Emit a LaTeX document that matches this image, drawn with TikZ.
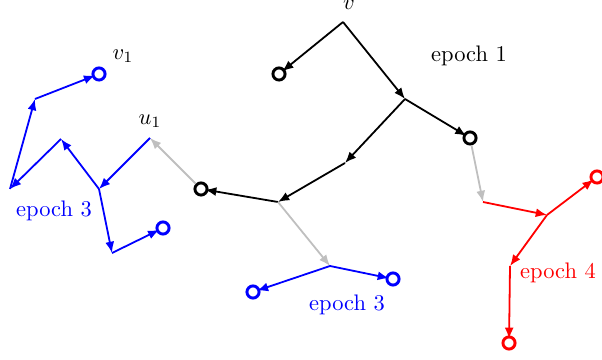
\documentclass[tikz,border=0pt]{standalone}
\usetikzlibrary{arrows.meta}
\begin{document}
\begin{tikzpicture}[x=0.445pt,y=-0.445pt,
  edge/.style={thick,-{Latex[length=5pt,width=4pt]}},
  toleaf/.style={edge,shorten >=-1.5pt},
  leaf/.style={circle,draw,line width=1.3pt,inner sep=0pt,minimum size=5.4pt},
  blk/.style={black},
  blu/.style={blue},
  rd/.style={red},
  gry/.style={black!25},
  lbl/.style={inner sep=1pt}]
\useasboundingbox (0,0) rectangle (602,360);
% black tree
\coordinate (v) at (343,22);
\coordinate (a) at (405,99);
\coordinate (b) at (345,163);
\coordinate (c) at (278,202);
\node[leaf,blk] (l1) at (279,74) {};
\node[leaf,blk] (l2) at (470,138) {};
\node[leaf,blk] (l3) at (201,189) {};
\node[lbl] (vl) at (349,5) {$v$};
\node[lbl] (e1) at (469,56) {epoch 1};
\draw[toleaf,blk] (v) -- (l1);
\draw[edge,blk] (v) -- (a);
\draw[edge,blk] (a) -- (b);
\draw[toleaf,blk] (a) -- (l2);
\draw[edge,blk] (b) -- (c);
\draw[toleaf,blk] (c) -- (l3);
% gray transitions
\coordinate (u1) at (150,138);
\coordinate (r0) at (483,202);
\coordinate (b0) at (330,266);
\draw[edge,gry] (l3) -- (u1);
\draw[edge,gry] (c) -- (b0);
\draw[edge,gry] (l2) -- (r0);
% red tree
\coordinate (r1) at (547,215);
\coordinate (r2) at (510,266);
\node[leaf,rd] (rl1) at (597,177) {};
\node[leaf,rd] (rl2) at (509,343) {};
\node[lbl,red] (e4) at (558,273) {epoch 4};
\draw[edge,rd] (r0) -- (r1);
\draw[toleaf,rd] (r1) -- (rl1);
\draw[edge,rd] (r1) -- (r2);
\draw[toleaf,rd] (r2) -- (rl2);
% blue bottom tree
\node[leaf,blu] (bl1) at (253,292) {};
\node[leaf,blu] (bl2) at (393,279) {};
\node[lbl,blue] (e3b) at (347,305) {epoch 3};
\draw[toleaf,blu] (b0) -- (bl1);
\draw[toleaf,blu] (b0) -- (bl2);
% blue left tree
\coordinate (p1) at (99,189);
\coordinate (p2) at (61,139);
\coordinate (p3) at (10,189);
\coordinate (p4) at (35,99);
\coordinate (p5) at (112,253);
\node[leaf,blu] (v1) at (99,74) {};
\node[leaf,blu] (q1) at (163,228) {};
\node[lbl] (v1l) at (123,56) {$v_1$};
\node[lbl] (u1l) at (150,121) {$u_1$};
\node[lbl,blue] (e3a) at (54,211) {epoch 3};
\draw[edge,blu] (u1) -- (p1);
\draw[edge,blu] (p1) -- (p2);
\draw[edge,blu] (p2) -- (p3);
\draw[edge,blu] (p3) -- (p4);
\draw[toleaf,blu] (p4) -- (v1);
\draw[edge,blu] (p1) -- (p5);
\draw[toleaf,blu] (p5) -- (q1);
\end{tikzpicture}
\end{document}
